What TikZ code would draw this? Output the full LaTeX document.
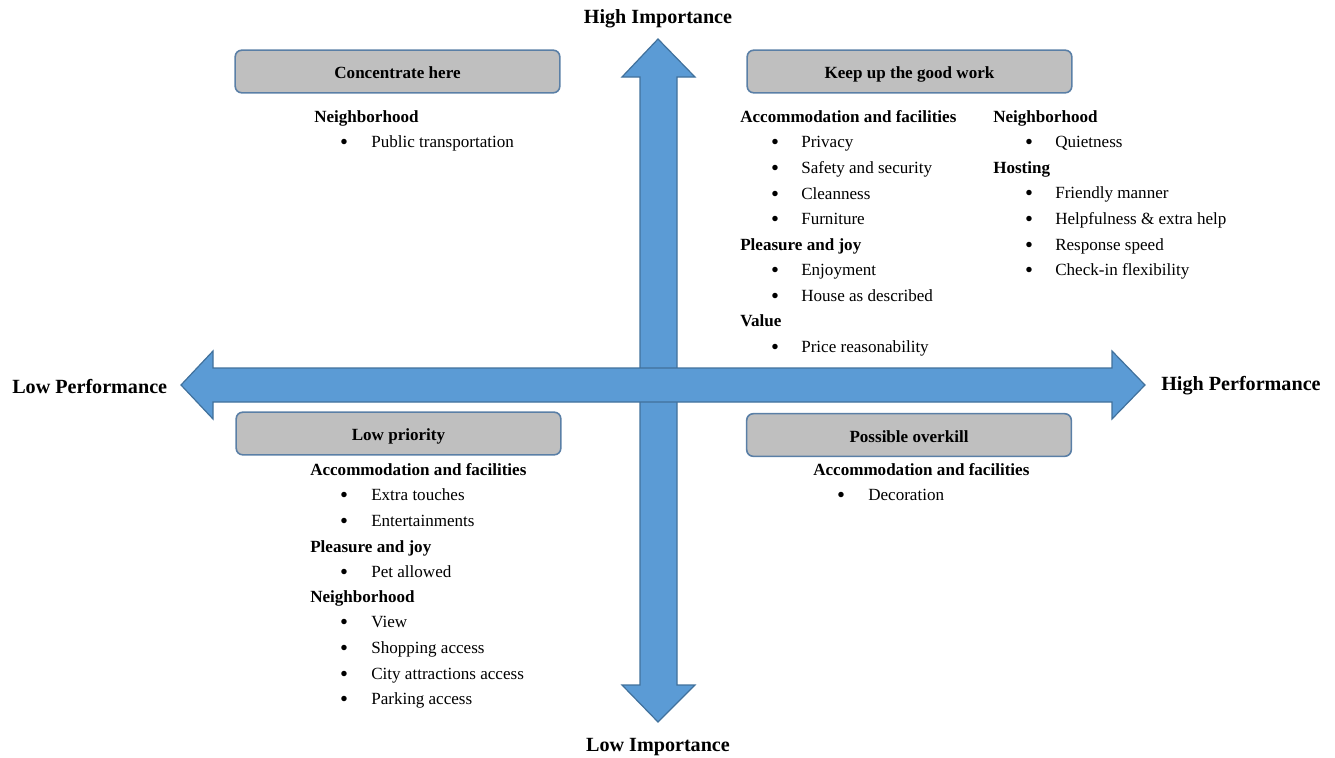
\documentclass[tikz,border=0pt]{standalone}
\usepackage{fontspec}
\setmainfont{Liberation Serif}
\begin{document}
\begin{tikzpicture}[x=0.75pt,y=-0.75pt,
  arrowshape/.style={fill=arrowblue,draw=arrowedge,line width=0.9pt,line join=miter},
  boxlabel/.style={draw=boxedge,fill=boxgray,line width=1.2pt,rounded corners=5pt,
    minimum width=243.5pt,minimum height=32pt,font=\fontsize{12.8}{14}\selectfont\bfseries,inner sep=0pt,
    text height=11pt,text depth=0pt},
  axislabel/.style={font=\fontsize{15.1}{17}\selectfont\bfseries,inner sep=0pt},
  hd/.style={anchor=mid west,inner sep=0pt,font=\fontsize{12.8}{14}\selectfont\bfseries},
  it/.style={anchor=mid west,inner sep=0pt,font=\fontsize{12.8}{14}\selectfont},
  bl/.style={anchor=center,inner sep=0pt,font=\fontsize{17}{17}\selectfont}]
\definecolor{arrowblue}{HTML}{5B9BD5}
\definecolor{arrowedge}{HTML}{41719C}
\definecolor{boxgray}{HTML}{BFBFBF}
\definecolor{boxedge}{HTML}{5A7FA6}
\useasboundingbox (0,0) rectangle (1335,757);
% vertical arrow
\draw[arrowshape] (640,77) -- (622,77) -- (658,39) -- (695,77) -- (677,77) -- (677,685) -- (695,685) -- (658,722) -- (622,685) -- (640,685) -- cycle;
% horizontal arrow
\draw[arrowshape] (213,368) -- (213,351) -- (181,385) -- (213,419) -- (213,402) -- (1112,402) -- (1112,419) -- (1145,385) -- (1112,351) -- (1112,368) -- cycle;
% axis labels
\node[axislabel] (hi) at (658,19) {High Importance};
\node[axislabel] (li) at (658,747) {Low Importance};
\node[axislabel,anchor=west] (lp) at (12,387) {Low Performance};
\node[axislabel,anchor=west] (hp) at (1161,386) {High Performance};
% boxes
\node[boxlabel] (ch) at (397.5,71.5) {Concentrate here};
\node[boxlabel] (kg) at (909.5,71.5) {Keep up the good work};
\node[boxlabel] (lpr) at (398.5,433.5) {Low priority};
\node[boxlabel] (po) at (909,435) {Possible overkill};
\begin{scope}[yshift=-2.25pt]
% Concentrate here
\node[hd] (ch1) at (314,116) {Neighborhood};
\node[bl] (chb1) at (344,141) {\textbullet};
\node[it] (cht1) at (371,141) {Public transportation};
% Keep up the good work, left column
\node[hd] (kh1) at (740,116) {Accommodation and facilities};
\node[hd] (kh2) at (740,244) {Pleasure and joy};
\node[hd] (kh3) at (740,320) {Value};
\foreach \yy/\tt [count=\i] in {141/Privacy,167/Safety and security,193/Cleanness,218/Furniture,269/Enjoyment,295/House as described,346/Price reasonability}{
  \node[bl] (kb\i) at (775,\yy) {\textbullet};
  \node[it] (kt\i) at (801,\yy) {\tt};
}
% Keep up the good work, right column
\node[hd] (rh1) at (993,116) {Neighborhood};
\node[hd] (rh2) at (993,167) {Hosting};
\foreach \yy/\tt [count=\i] in {141/Quietness,192/Friendly manner,218/Helpfulness \& extra help,244/Response speed,269/Check-in flexibility}{
  \node[bl] (rb\i) at (1029,\yy) {\textbullet};
  \node[it] (rt\i) at (1055,\yy) {\tt};
}
% Low priority
\node[hd] (lh1) at (310,469) {Accommodation and facilities};
\node[hd] (lh2) at (310,546) {Pleasure and joy};
\node[hd] (lh3) at (310,596) {Neighborhood};
\foreach \yy/\tt [count=\i] in {494/Extra touches,520/Entertainments,571/Pet allowed,621/View,647/Shopping access,673/City attractions access,698/Parking access}{
  \node[bl] (lb\i) at (344,\yy) {\textbullet};
  \node[it] (lt\i) at (371,\yy) {\tt};
}
% Possible overkill
\node[hd] (ph1) at (813,469) {Accommodation and facilities};
\node[bl] (pb1) at (841,494) {\textbullet};
\node[it] (pt1) at (868,494) {Decoration};
\end{scope}
\end{tikzpicture}
\end{document}
